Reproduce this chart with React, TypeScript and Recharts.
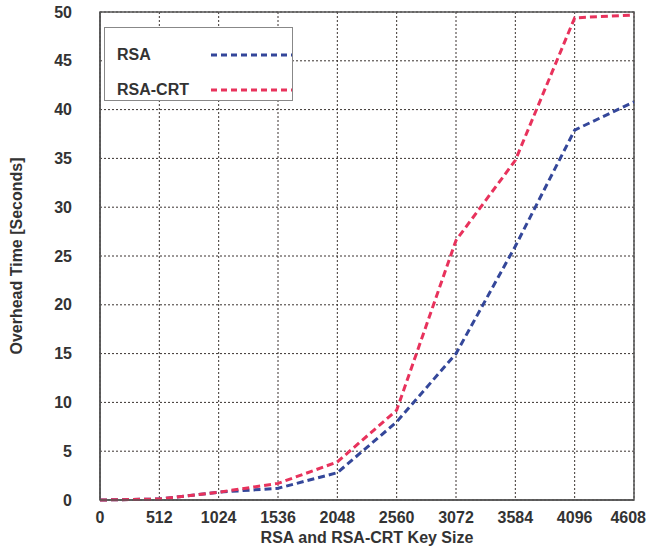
import React from 'react';
import {
  CartesianGrid,
  Legend,
  Line,
  LineChart,
  ReferenceArea,
  XAxis,
  YAxis,
} from 'recharts';

const keySizes = [0, 512, 1024, 1536, 2048, 2560, 3072, 3584, 4096, 4608];
const rsaTimes = [0, 0.1, 0.8, 1.2, 2.8, 8.0, 15.0, 26.0, 37.9, 40.8];
const crtTimes = [0, 0.1, 0.8, 1.7, 3.9, 9.2, 26.6, 34.8, 49.4, 49.7];
const yTicks = [0, 5, 10, 15, 20, 25, 30, 35, 40, 45, 50];

const data = keySizes.map((k, i) => ({ key: k, rsa: rsaTimes[i], crt: crtTimes[i] }));

const FONT = '"Liberation Sans", Arial, sans-serif';
const BLUE = '#34479a';
const RED = '#e8325c';
const TEXT = '#333';

const series = [
  { key: 'rsa', name: 'RSA', color: BLUE },
  { key: 'crt', name: 'RSA-CRT', color: RED },
];

function LegendBox() {
  return (
    <div
      style={{
        width: 189,
        height: 74,
        border: '1px solid #888',
        background: '#fff',
        fontFamily: FONT,
        fontWeight: 700,
        fontSize: 16,
        color: TEXT,
        boxSizing: 'border-box',
        paddingTop: 9,
      }}
    >
      {series.map((s) => (
        <div key={s.key} style={{ display: 'flex', alignItems: 'center', height: 35 }}>
          <span style={{ width: 95, paddingLeft: 12, lineHeight: '16px' }}>{s.name}</span>
          <svg width={82} height={8}>
            <line x1={0} y1={4} x2={82} y2={4} stroke={s.color} strokeWidth={3} strokeDasharray="6 4" />
          </svg>
        </div>
      ))}
    </div>
  );
}

function XTick(props: any) {
  const { x, y, payload, index } = props;
  const last = index === keySizes.length - 1;
  return (
    <text
      x={last ? 646 : x}
      y={y}
      dy={12}
      textAnchor={last ? 'end' : 'middle'}
      fill={TEXT}
      fontSize={16}
      fontWeight={700}
      fontFamily={FONT}
    >
      {payload.value}
    </text>
  );
}

export default function App() {
  return (
    <div style={{ position: 'absolute', left: 0, top: 0, background: '#fff' }}>
      <LineChart
        width={647}
        height={550}
        data={data}
        margin={{ top: 12, right: 13, left: 0, bottom: 20 }}
      >
        <CartesianGrid stroke="#3a3330" strokeDasharray="2 2" strokeWidth={1} />
        <XAxis
          dataKey="key"
          type="number"
          domain={[0, 4608]}
          ticks={keySizes}
          interval={0}
          height={30}
          tickLine={false}
          tickSize={0}
          tickMargin={11}
          axisLine={{ stroke: '#555', strokeWidth: 1.5 }}
          tick={<XTick />}
          label={{
            value: 'RSA and RSA-CRT Key Size',
            position: 'bottom',
            offset: 2,
            fill: TEXT,
            fontSize: 16,
            fontWeight: 700,
            fontFamily: FONT,
          }}
        />
        <YAxis
          type="number"
          domain={[0, 50]}
          ticks={yTicks}
          interval={0}
          width={100}
          tickLine={false}
          tickSize={0}
          tickMargin={28}
          axisLine={{ stroke: '#555', strokeWidth: 1.5 }}
          tick={{ fill: TEXT, fontSize: 16, fontWeight: 700, fontFamily: FONT }}
          label={{
            value: 'Overhead Time [Seconds]',
            angle: -90,
            position: 'insideLeft',
            offset: 16,
            style: { textAnchor: 'middle' },
            fill: TEXT,
            fontSize: 16,
            fontWeight: 700,
            fontFamily: FONT,
          }}
        />
        <ReferenceArea x1={0} x2={4608} y1={0} y2={50} fill="none" stroke="#555" strokeWidth={1.5} />
        <Legend
          layout="horizontal"
          verticalAlign="middle"
          align="center"
          content={() => <LegendBox />}
          wrapperStyle={{ position: 'absolute', left: 104, top: 27, width: 189 }}
        />
        {series.map((s) => (
          <Line
            key={s.key}
            type="linear"
            dataKey={s.key}
            name={s.name}
            stroke={s.color}
            strokeWidth={3}
            strokeDasharray="7 4"
            dot={false}
            isAnimationActive={false}
          />
        ))}
      </LineChart>
    </div>
  );
}
